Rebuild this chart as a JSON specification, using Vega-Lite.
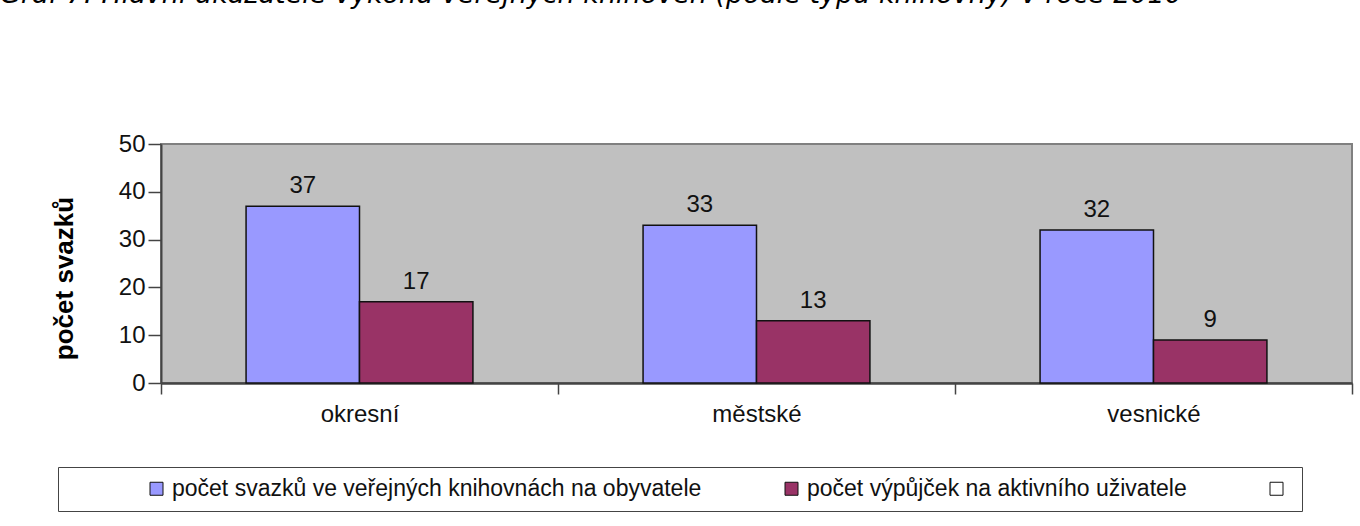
{
  "$schema": "https://vega.github.io/schema/vega-lite/v6.json",
  "width": 1191,
  "height": 239,
  "autosize": {"type": "none"},
  "padding": {"left": 161, "top": 144, "right": 8, "bottom": 143},
  "background": "white",
  "title": {
    "text": "Graf 7: Hlavní ukazatele výkonu veřejných knihoven (podle typu knihovny) v roce 2010",
    "anchor": "start",
    "frame": "group",
    "font": "DejaVu Sans",
    "fontStyle": "italic",
    "fontWeight": "normal",
    "fontSize": 27,
    "color": "#000000",
    "offset": 102,
    "dx": -161,
    "baseline": "alphabetic"
  },
  "data": {
    "values": [
      {"typ": "okresní", "ukazatel": "počet svazků ve veřejných knihovnách na obyvatele", "hodnota": 37},
      {"typ": "okresní", "ukazatel": "počet výpůjček na aktivního uživatele", "hodnota": 17},
      {"typ": "městské", "ukazatel": "počet svazků ve veřejných knihovnách na obyvatele", "hodnota": 33},
      {"typ": "městské", "ukazatel": "počet výpůjček na aktivního uživatele", "hodnota": 13},
      {"typ": "vesnické", "ukazatel": "počet svazků ve veřejných knihovnách na obyvatele", "hodnota": 32},
      {"typ": "vesnické", "ukazatel": "počet výpůjček na aktivního uživatele", "hodnota": 9}
    ]
  },
  "encoding": {
    "x": {
      "field": "typ",
      "type": "nominal",
      "sort": ["okresní", "městské", "vesnické"],
      "scale": {"paddingInner": 0, "paddingOuter": 0},
      "axis": {
        "title": null,
        "labelAngle": 0,
        "tickBand": "extent",
        "tickSize": 11,
        "tickColor": "#444444",
        "tickWidth": 1.5,
        "domainColor": "#444444",
        "domainWidth": 2.5,
        "labelFont": "Liberation Sans",
        "labelFontSize": 24,
        "labelColor": "#111111",
        "labelPadding": 8,
        "grid": false
      }
    },
    "xOffset": {
      "field": "ukazatel",
      "type": "nominal",
      "sort": ["počet svazků ve veřejných knihovnách na obyvatele", "počet výpůjček na aktivního uživatele"],
      "scale": {"paddingInner": 0, "paddingOuter": 0.75}
    },
    "y": {
      "field": "hodnota",
      "type": "quantitative",
      "scale": {"domain": [0, 50], "nice": false},
      "axis": {
        "values": [0, 10, 20, 30, 40, 50],
        "grid": false,
        "tickSize": 13,
        "tickColor": "#444444",
        "tickWidth": 1.5,
        "domainColor": "#444444",
        "domainWidth": 2,
        "labelFont": "Liberation Sans",
        "labelFontSize": 24,
        "labelColor": "#111111",
        "labelPadding": 3,
        "title": "počet svazků",
        "titleFont": "Liberation Sans",
        "titleFontSize": 26,
        "titleFontWeight": "bold",
        "titleColor": "#000000",
        "titlePadding": 41,
        "titleY": 134
      }
    }
  },
  "layer": [
    {
      "mark": {"type": "bar", "stroke": "#111111", "strokeWidth": 1.5},
      "encoding": {
        "color": {
          "field": "ukazatel",
          "type": "nominal",
          "scale": {
            "domain": ["počet svazků ve veřejných knihovnách na obyvatele", "počet výpůjček na aktivního uživatele", "~"],
            "range": ["#9999ff", "#993366", "#ffffff"]
          },
          "legend": {
            "orient": "none",
            "legendX": -103,
            "legendY": 323,
            "direction": "horizontal",
            "title": " ",
            "titleOrient": "left",
            "titlePadding": 77,
            "titleFontSize": 22,
            "padding": 10,
            "strokeColor": "#444444",
            "fillColor": "white",
            "symbolType": "square",
            "symbolSize": 169,
            "symbolStrokeWidth": 1,
            "labelFont": "Liberation Sans",
            "labelFontSize": 23,
            "labelColor": "#111111",
            "labelLimit": 1000,
            "labelOffset": 4,
            "labelExpr": "datum.value === '~' ? '' : datum.label",
            "columnPadding": 78,
            "encode": {
              "symbols": {
                "opacity": {"condition": {"test": "datum.value === '~'", "value": 0}, "value": 1}
              }
            }
          }
        }
      }
    },
    {
      "mark": {"type": "text", "dy": -13, "baseline": "alphabetic", "font": "Liberation Sans", "fontSize": 24, "color": "#111111"},
      "encoding": {"text": {"field": "hodnota", "type": "quantitative"}}
    }
  ],
  "config": {
    "view": {"fill": "#c0c0c0", "stroke": "#808080", "strokeWidth": 2}
  }
}
